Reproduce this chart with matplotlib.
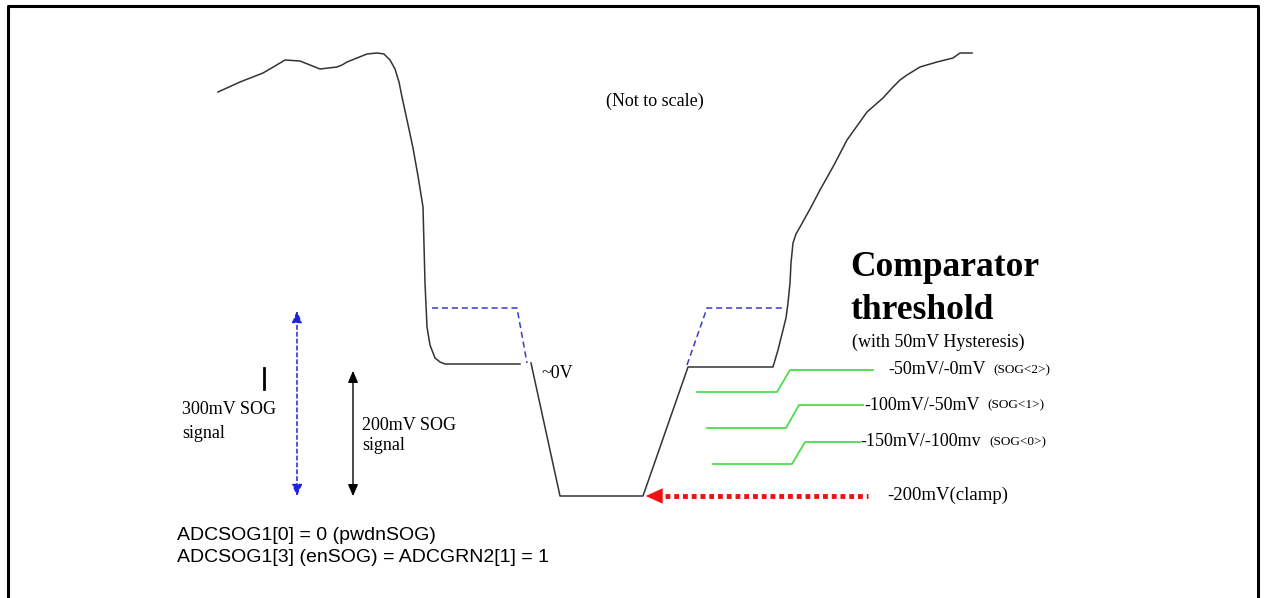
import matplotlib.pyplot as plt

# waveform (pixel coords, y downwards)
wave_a_x = [218, 240, 263, 275, 285, 300, 310, 320, 337, 342, 347, 357, 367, 377, 384, 390, 395, 399, 402, 407,
            413, 418, 423, 424, 425, 427, 430, 435, 440, 445, 520]
wave_a_y = [92, 82, 73, 66, 60, 61, 65, 69, 67, 65, 62, 58, 54, 53, 54, 60, 69, 82, 97, 120,
            148, 176, 207, 245, 283, 327, 345, 358, 362, 364, 364]
wave_b_x = [531, 560, 643, 688, 773, 778, 783, 786, 788, 790, 791, 793, 796, 800, 810, 820, 834, 847, 857, 867,
            875, 883, 893, 900, 907, 920, 937, 953, 960, 972]
wave_b_y = [363, 496, 496, 367, 367, 350, 330, 318, 303, 283, 263, 243, 234, 227, 209, 190, 165, 140, 126, 112,
            105, 98, 87, 80, 75, 67, 62, 58, 53, 53]

# 300mV case (dashed blue)
sog300_left_x = [432, 517, 527]
sog300_left_y = [308, 308, 363]
sog300_right_x = [687, 707, 783]
sog300_right_y = [365, 308, 308]

# comparator threshold steps
thr_labels = ["-50mV/-0mV", "-100mV/-50mV", "-150mV/-100mv"]
thr_tags = ["(SOG<2>)", "(SOG<1>)", "(SOG<0>)"]
thr_text_x = [888, 864, 860]
thr_x = [[697, 777, 790, 873], [707, 786, 799, 863], [713, 792, 805, 860]]
thr_y = [[392, 392, 370, 370], [428, 428, 405, 405], [464, 464, 442, 442]]

fig = plt.figure(figsize=(12.65, 5.98), dpi=100)
ax = fig.add_axes([0, 0, 1, 1])
ax.set_xlim(0, 1265)
ax.set_ylim(598, 0)
ax.axis('off')

# frame
ax.plot([7.5, 7.5, 1258, 1258], [610, 6, 6, 610], color='black', lw=2.2)

ax.plot(wave_a_x, wave_a_y, color='#333333', lw=1.1)
ax.plot(wave_b_x, wave_b_y, color='#333333', lw=1.1)
ax.plot(sog300_left_x, sog300_left_y, color='#3a3ac8', lw=1.1, ls=(0, (4, 2.5)))
ax.plot(sog300_right_x, sog300_right_y, color='#3a3ac8', lw=1.1, ls=(0, (4, 2.5)))

serif = 'Liberation Serif'
for xs, ys, lbl, tag, tx in zip(thr_x, thr_y, thr_labels, thr_tags, thr_text_x):
    ax.plot(xs, ys, color='#4ddd4d', lw=1.3)
    t = ax.text(tx, ys[-1], lbl, family=serif, fontsize=13, va='center')
    ax.annotate(tag, xy=(1, 0.5), xycoords=t, xytext=(6, 0), textcoords='offset points',
                family=serif, fontsize=9.5, va='center')

# clamp arrow
ax.plot([665, 868], [496, 496], color='#ee1111', lw=3.5, ls=(0, (1, 0.8)))
ax.annotate('', xy=(643, 496), xytext=(668, 496),
            arrowprops=dict(arrowstyle='-|>,head_length=1.2,head_width=0.55', color='#ee1111', lw=0.1))
ax.text(887, 495, "-200mV(clamp)", family=serif, fontsize=13.5, va='center')

ax.text(850, 276, "Comparator", family=serif, fontsize=25.5, fontweight='bold', va='baseline')
ax.text(850, 319, "threshold", family=serif, fontsize=25.5, fontweight='bold', va='baseline')
ax.text(852, 342, "(with 50mV Hysteresis)", family=serif, fontsize=13, va='center')
ax.text(655, 101, "(Not to scale)", family=serif, fontsize=13, va='center', ha='center')
ax.text(542, 373, "~0V", family=serif, fontsize=13, va='center')

# SOG amplitude arrows
ax.annotate('', xy=(297, 308), xytext=(297, 499),
            arrowprops=dict(arrowstyle='<|-|>,head_length=0.7,head_width=0.3', color='#2020e0',
                            lw=1.1, ls=(0, (2.5, 2))))
ax.annotate('', xy=(353, 368), xytext=(353, 499),
            arrowprops=dict(arrowstyle='<|-|>,head_length=0.7,head_width=0.3', color='black', lw=1.0))
ax.plot([264, 264], [368, 389], color='black', lw=2)

ax.text(182, 410, "300mV SOG", family=serif, fontsize=13, va='center')
ax.text(182, 433, "signal", family=serif, fontsize=13, va='center')
ax.text(362, 425, "200mV SOG", family=serif, fontsize=13, va='center')
ax.text(362, 446, "signal", family=serif, fontsize=13, va='center')

ax.text(177, 535, "ADCSOG1[0] = 0 (pwdnSOG)", family='Liberation Sans', fontsize=14, va='center')
ax.text(177, 558, "ADCSOG1[3] (enSOG) = ADCGRN2[1] = 1", family='Liberation Sans', fontsize=14, va='center')

fig.savefig('out.png', dpi=100)
